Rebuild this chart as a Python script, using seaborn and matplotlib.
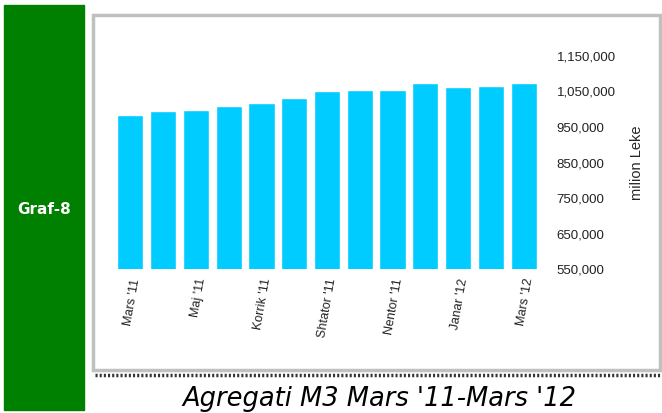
import matplotlib
matplotlib.use("Agg")
import matplotlib.pyplot as plt
import matplotlib.patches as mpatches
from matplotlib.lines import Line2D
from matplotlib.ticker import FuncFormatter
import pandas as pd
import seaborn as sns

# --- te dhenat ---
muajt = ["Mars '11", "Prill '11", "Maj '11", "Qershor '11", "Korrik '11", "Gusht '11",
         "Shtator '11", "Tetor '11", "Nentor '11", "Dhjetor '11", "Janar '12",
         "Shkurt '12", "Mars '12"]
m3 = [983000, 994500, 997500, 1008500, 1017000, 1031000, 1050500,
      1053500, 1053500, 1073000, 1062000, 1065000, 1073000]
etiketa_x = ["Mars '11", "", "Maj '11", "", "Korrik '11", "", "Shtator '11", "",
             "Nentor '11", "", "Janar '12", "", "Mars '12"]
yticks = [550000, 650000, 750000, 850000, 950000, 1050000, 1150000]

df = pd.DataFrame({"muaji": muajt, "m3": m3})

sns.set_style("white")
plt.rcParams['font.family'] = ['Liberation Sans', 'DejaVu Sans']

fig = plt.figure(figsize=(6.62, 4.13), dpi=100)

# paneli jeshil
fig.patches.append(mpatches.Rectangle((4 / 662, 3 / 413), 80 / 662, 405 / 413,
                                      transform=fig.transFigure, color="#008000", zorder=0))
fig.text(44 / 662, 1 - 210 / 413, "Graf-8", color="white", fontsize=11, fontweight="bold",
         ha="center", va="center", family=['DejaVu Sans'])

# kutia e bardhe me kornize gri
fig.patches.append(mpatches.Rectangle((93 / 662, 1 - 370 / 413), 567 / 662, 355 / 413,
                                      transform=fig.transFigure, facecolor="white",
                                      edgecolor="#c0c0c0", linewidth=2.5, zorder=0))
fig.lines.append(Line2D([95 / 662, 662 / 662], [1 - 375 / 413, 1 - 375 / 413],
                        transform=fig.transFigure, color="#333333", lw=2.5,
                        linestyle=(0, (0.6, 0.6))))

ax = fig.add_axes([114 / 662, 1 - 269.3 / 413, 426 / 662, 213.6 / 413])
ax.set_zorder(3)
sns.barplot(data=df, x="muaji", y="m3", color="#00ccff", saturation=1, width=0.8, ax=ax)
ax.set_facecolor("none")
ax.set_ylim(550000, 1150000)
ax.set_xlim(-0.5, 12.5)
ax.set_yticks(yticks)
ax.yaxis.set_major_formatter(FuncFormatter(lambda v, p: f"{int(v):,}"))
ax.yaxis.tick_right()
ax.yaxis.set_label_position("right")
ax.tick_params(axis="y", length=0, pad=12, labelsize=9.5, labelcolor="#222222")
ax.set_xticks(range(len(muajt)))
ax.set_xticklabels(etiketa_x, rotation=80, ha="right", rotation_mode="anchor", fontsize=9)
ax.tick_params(axis="x", length=0, pad=6, labelcolor="#222222")
ax.set_xlabel("")
ax.set_ylabel("milion Leke", fontsize=10.5, labelpad=10)
for s in ax.spines.values():
    s.set_visible(False)

fig.text(379 / 662, 1 - 399 / 413, "Agregati M3 Mars '11-Mars '12", fontsize=18.5,
         style="italic", ha="center", va="center", color="black",
         family=['DejaVu Sans'])

fig.savefig("out.png", dpi=100)
